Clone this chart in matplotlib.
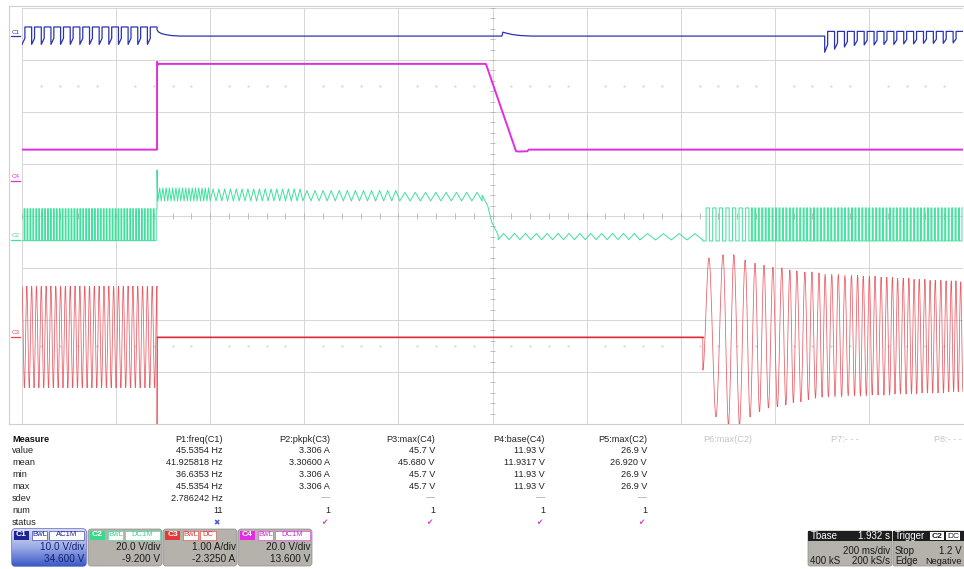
import numpy as np
import matplotlib
matplotlib.use('Agg')
import matplotlib.pyplot as plt
from matplotlib.path import Path
from matplotlib.patches import PathPatch, FancyBboxPatch, Rectangle
from matplotlib.colors import LinearSegmentedColormap

plt.rcParams['font.family'] = ['Liberation Sans', 'DejaVu Sans']

W, H = 964, 569

# scope setup: 200 ms/div, 10 x 8 divisions
t_div = 200.0
n_xdiv, n_ydiv = 10, 8
ch_names = ['C1', 'C2', 'C3', 'C4']
ch_scale = [10.0, 20.0, 1.0, 20.0]
ch_offset = [34.6, -9.2, -2.325, 13.6]
ch_color = ['#2a34b2', '#3fe09c', '#e84852', '#e22ee0']

# ---- C1 (blue, V, AC) ----
c1_stop_t = 287
c1_pre_hi = [1.75] * 14
c1_pre_lo = [-1.6] * 14
c1_decay_t = [287, 290, 296, 305, 318, 336]
c1_decay_v = [1.2, 0.8, 0.5, 0.28, 0.1, 0.0]
c1_bump_t = [1020, 1022, 1030, 1042, 1060, 1085]
c1_bump_v = [0.0, 0.75, 0.55, 0.3, 0.1, 0.0]
c1_restart_t = 1706
c1_restart_hi = [0.9] * 14
c1_restart_lo = [-3.1, -2.5, -2.1, -1.8, -1.7, -1.7, -1.6, -1.6, -1.5, -1.5, -1.4, -1.4, -1.4, -1.3]

# ---- C2 (green, V) ----
c2_pre_hi = [12.0] * 46
c2_pre_lo = [-0.3] * 46
c2_spike = 26.9
c2_ripple_t = [289, 400, 597, 803, 978]
c2_ripple_n = [16, 16, 12, 8]
c2_ripple_top = [20.0, 19.6, 19.0, 18.3]
c2_ripple_bot = [15.0, 15.0, 15.0, 15.0]
c2_fall_t = [978, 990, 998, 1012]
c2_fall_v = [17.2, 13.0, 7.0, 1.9]
c2_low_t = [1012, 1313, 1447]
c2_low_n = [13, 4]
c2_low_top = [2.5, 2.4]
c2_low_bot = [0.1, 0.0]
c2_run_t = [1447, 1545, 2000]
c2_run_n = [7, 62]
c2_run_hi = 12.3
c2_run_lo = -0.4

# ---- C3 (red, A) ----
c3_pre_cycles = 28
c3_pre_amp = 0.98
c3_stop_spike = -1.675
c3_restart_t = 1447
c3_restart_kick = -0.64
c3_peak_t = [1460, 1490, 1513, 1537, 1558, 1577, 1596, 1615, 1632, 1647, 1664, 1679, 1694,
             1707, 1721, 1735, 1749, 1763, 1776, 1788, 1801, 1813, 1826, 1838, 1850, 1861,
             1873, 1885, 1896, 1907, 1919, 1930, 1941, 1953, 1964, 1975, 1985, 1995]
c3_peak_top = [1.52, 1.58, 1.58, 1.48, 1.42, 1.38, 1.34, 1.33, 1.29, 1.27, 1.25, 1.25, 1.23,
               1.21, 1.21, 1.21, 1.19, 1.19, 1.19, 1.17, 1.17, 1.17, 1.15, 1.15, 1.15, 1.13,
               1.13, 1.13, 1.11, 1.11, 1.11, 1.09, 1.09, 1.09, 1.08, 1.08, 1.08, 1.06]
c3_peak_bot = [-1.54, -1.69, -1.69, -1.54, -1.44, -1.37, -1.35, -1.31, -1.27, -1.25, -1.21,
               -1.18, -1.16, -1.16, -1.16, -1.16, -1.14, -1.14, -1.14, -1.14, -1.12, -1.12,
               -1.12, -1.12, -1.10, -1.10, -1.10, -1.10, -1.10, -1.08, -1.08, -1.08, -1.08,
               -1.08, -1.06, -1.06, -1.06, -1.06]

# ---- C4 (magenta, V) ----
c4_t = [0, 287, 287, 289, 292, 986, 1050, 1056, 1074, 1077, 2000]
c4_v = [11.93, 11.93, 45.7, 44.6, 44.9, 44.9, 11.3, 11.2, 11.3, 11.93, 11.93]

# ---- measurement table ----
meas_rows = ['value', 'mean', 'min', 'max', 'sdev', 'num', 'status']
meas_headers = ['P1:freq(C1)', 'P2:pkpk(C3)', 'P3:max(C4)', 'P4:base(C4)', 'P5:max(C2)',
                'P6:max(C2)', 'P7:- - -', 'P8:- - -']
p1_vals = ['45.5354 Hz', '41.925818 Hz', '36.6353 Hz', '45.5354 Hz', '2.786242 Hz', '11']
p2_vals = ['3.306 A', '3.30600 A', '3.306 A', '3.306 A', '\u2014', '1']
p3_vals = ['45.7 V', '45.680 V', '45.7 V', '45.7 V', '\u2014', '1']
p4_vals = ['11.93 V', '11.9317 V', '11.93 V', '11.93 V', '\u2014', '1']
p5_vals = ['26.9 V', '26.920 V', '26.9 V', '26.9 V', '\u2014', '1']
p_status = ['\u2716', '\u2714', '\u2714', '\u2714', '\u2714']

ch_vdiv = ['10.0 V/div', '20.0 V/div', '1.00 A/div', '20.0 V/div']
ch_offs_txt = ['34.600 V', '-9.200 V', '-2.3250 A', '13.600 V']
ch_coupling = ['AC1M', 'DC1M', 'DC', 'DC1M']


def to_div(v, ch):
    return (np.asarray(v, dtype=float) + ch_offset[ch]) / ch_scale[ch]


def square_train(t0, t1, his, los, duty, hook=0.0):
    edges = np.linspace(t0, t1, len(los) + 1)
    t, v = [], []
    for a, b, hi, lo in zip(edges[:-1], edges[1:], his, los):
        m = a + duty * (b - a)
        t += [a, m, m, b]
        v += [lo, lo + hook * (hi - lo), hi, hi]
    return t, v


def zigzag(t0, t1, n, top, bot):
    tt = np.linspace(t0, t1, 2 * n + 1)
    return list(tt), [bot if k % 2 == 0 else top for k in range(2 * n + 1)]


def smooth_path(ts, vs):
    verts = [(ts[0], vs[0])]
    codes = [Path.MOVETO]
    for i in range(1, len(ts)):
        t0, v0, t1, v1 = ts[i - 1], vs[i - 1], ts[i], vs[i]
        dt = t1 - t0
        if dt <= 0:
            verts.append((t1, v1))
            codes.append(Path.LINETO)
        else:
            verts += [(t0 + dt / 3, v0), (t1 - dt / 3, v1), (t1, v1)]
            codes += [Path.CURVE4] * 3
    return Path(verts, codes)


fig = plt.figure(figsize=(W / 100, H / 100), dpi=100)
fig.patch.set_facecolor('white')

# ui layer in pixel coordinates
ui = fig.add_axes([0, 0, 1, 1])
ui.axis('off')
ui.plot([9, 9], [6, 424], color='#cfcfcf', lw=0.8)
ui.plot([9, W], [6, 6], color='#cfcfcf', lw=0.8)
ui.plot([9, W], [424, 424], color='#cfcfcf', lw=0.8)

# waveform area
ax = fig.add_axes([22 / W, 1 - 424 / H, 941 / W, 416 / H])
ax.set_xlim(0, n_xdiv * t_div)
ax.set_ylim(-n_ydiv / 2, n_ydiv / 2)
ax.axis('off')
ax.patch.set_alpha(0)
for k in range(n_xdiv + 1):
    ax.axvline(k * t_div, color='#d6d6d6', lw=0.7, zorder=0)
for k in range(-n_ydiv // 2, n_ydiv // 2 + 1):
    ax.axhline(k, color='#d6d6d6', lw=0.7, zorder=0)
minor_t = np.arange(0, n_xdiv * t_div + 1, t_div / 5)
minor_y = np.arange(-4, 4.01, 0.2)
ax.vlines(minor_t, -0.05, 0.05, color='#b4b4b4', lw=0.6, zorder=0)
ax.hlines(minor_y, 1000 - 6, 1000 + 6, color='#b4b4b4', lw=0.6, zorder=0)
dot_t = [t for t in minor_t if t % t_div != 0]
for yd in (2.5, -2.5):
    ax.plot(dot_t, [yd] * len(dot_t), ls='none', marker='.', ms=1.0, color='#cdcdcd', zorder=0)

# C4 magenta
ax.plot(c4_t, to_div(c4_v, 3), color=ch_color[3], lw=1.4, zorder=3)

# C1 blue
t1, v1 = square_train(0, c1_stop_t, c1_pre_hi, c1_pre_lo, 0.3, 0.35)
t1 += c1_decay_t + c1_bump_t
v1 += c1_decay_v + c1_bump_v
tr, vr = square_train(c1_restart_t, 2000, c1_restart_hi, c1_restart_lo, 0.3, 0.35)
t1 += [c1_restart_t] + tr
v1 += [0.0] + vr
ax.plot(t1, to_div(v1, 0), color=ch_color[0], lw=0.9, zorder=3)

# C2 green
t2, v2 = square_train(0, c1_stop_t, c2_pre_hi, c2_pre_lo, 0.7)
t2 += [287, 287.6]
v2 += [c2_spike, 20.0]
for a, b, n, top, bot in zip(c2_ripple_t[:-1], c2_ripple_t[1:], c2_ripple_n, c2_ripple_top, c2_ripple_bot):
    tt, vv = zigzag(a, b, n, top, bot)
    t2 += tt
    v2 += vv
t2 += c2_fall_t
v2 += c2_fall_v
for a, b, n, top, bot in zip(c2_low_t[:-1], c2_low_t[1:], c2_low_n, c2_low_top, c2_low_bot):
    tt, vv = zigzag(a, b, n, top, bot)
    t2 += tt
    v2 += vv
for a, b, n, d in zip(c2_run_t[:-1], c2_run_t[1:], c2_run_n, [0.5, 0.7]):
    tt, vv = square_train(a, b, [c2_run_hi] * n, [c2_run_lo] * n, d)
    t2 += tt
    v2 += vv
ax.plot(t2, to_div(v2, 1), color=ch_color[1], lw=0.7, zorder=3)

# C3 red
t3 = list(np.linspace(0, c1_stop_t, 2 * c3_pre_cycles + 1))
v3 = [c3_pre_amp if k % 2 == 0 else -c3_pre_amp for k in range(len(t3))]
t3 += [287, 287.5, c3_restart_t, c3_restart_t]
v3 += [c3_stop_spike, 0.0, 0.0, c3_restart_kick]
for i, tp in enumerate(c3_peak_t):
    nxt = c3_peak_t[i + 1] if i + 1 < len(c3_peak_t) else tp + 10
    t3 += [tp, (tp + nxt) / 2]
    v3 += [c3_peak_top[i], c3_peak_bot[i]]
ax.add_patch(PathPatch(smooth_path(t3, list(to_div(v3, 2))), fill=False,
                       ec=ch_color[2], lw=0.55, alpha=0.9, zorder=2))
ax.plot([287.5, c3_restart_t], to_div([0.0, 0.0], 2), color='#dd2a36', lw=1.0, zorder=2)

# channel ground markers
for ch in [0, 3, 1, 2]:
    g = float(to_div(0.0, ch))
    ax.plot([-24, -4], [g, g], color=ch_color[ch], lw=0.9, clip_on=False)
    ax.text(-4, g + 0.03, ch_names[ch], ha='right', va='bottom', fontsize=4.5,
            color=ch_color[ch], clip_on=False)

# measurement table
row_y = [439, 450.5, 462, 474, 486, 498, 510.5, 522.5]
col_x = [223, 330, 435, 545, 647, 752, 859, 962]
fs = 6.6
ui.text(12, row_y[0], 'Measure', fontsize=fs, fontweight='bold', va='center', color='#111111')
for r, name in enumerate(meas_rows):
    ui.text(12, row_y[r + 1], name, fontsize=fs, va='center', color='#222222')
for c, head in enumerate(meas_headers):
    ui.text(col_x[c], row_y[0], head, fontsize=fs, ha='right', va='center',
            color='#222222' if c < 5 else '#c4c4c4')
for c, vals in enumerate([p1_vals, p2_vals, p3_vals, p4_vals, p5_vals]):
    for r, val in enumerate(vals):
        ui.text(col_x[c], row_y[r + 1], val, fontsize=fs, ha='right', va='center',
                color='#9a9a9a' if val == '\u2014' else '#222222')
    ui.text(col_x[c] - 3, row_y[7], p_status[c], fontsize=5.5, ha='right', va='center',
            color='#4a5ad0' if c == 0 else '#d040d0', family='DejaVu Sans')

# channel boxes
box_x = [12, 88, 163, 238]
box_w = 74
tag_col = ['#1c2493', '#3ad88f', '#e23a3a', '#e22ee0']
tag_txt = ['#1c2493', '#3ad88f', '#e23a3a', '#d030d0']
blue_cmap = LinearSegmentedColormap.from_list('c1box', ['#d6dcf5', '#9aaae6', '#3d5cc8'])
for i in range(4):
    x0 = box_x[i]
    face = '#b5b2ab' if i else '#9fb0e8'
    edge = '#2a3aa8' if i == 0 else '#8c8c8c'
    box = FancyBboxPatch((x0, 529), box_w, 37, boxstyle='round,pad=0,rounding_size=3',
                         fc=face, ec=edge, lw=0.8 if i == 0 else 0.5, zorder=1)
    ui.add_patch(box)
    if i == 0:
        grad = np.linspace(0, 1, 40)[:, None] * np.ones((1, 20))
        im = ui.imshow(grad, extent=(x0, x0 + box_w, 566, 529), cmap=blue_cmap,
                       aspect='auto', zorder=1.2)
        im.set_clip_path(box)
    ui.add_patch(Rectangle((x0 + 2, 530.5), 15, 9, fc=tag_col[i], ec='none', zorder=2))
    ui.text(x0 + 9.5, 535, ch_names[i], fontsize=6, color='white', fontweight='bold',
            ha='center', va='center', zorder=3)
    ui.add_patch(Rectangle((x0 + 20, 530.5), 15, 9, fc='white', ec=tag_col[i], lw=0.4, zorder=2))
    ui.text(x0 + 27.5, 535, 'BwL', fontsize=5.5, color=tag_txt[i], ha='center', va='center', zorder=3)
    cw = 35 if len(ch_coupling[i]) > 2 else 16
    ui.add_patch(Rectangle((x0 + 37, 530.5), cw, 9, fc='white', ec=tag_col[i], lw=0.4, zorder=2))
    ui.text(x0 + 37 + cw / 2, 535, ch_coupling[i], fontsize=5.5, color=tag_txt[i],
            ha='center', va='center', zorder=3)
    tc = '#16206e' if i == 0 else '#1a1a1a'
    ui.text(x0 + box_w - 1.5, 547.5, ch_vdiv[i], fontsize=7.2, ha='right', va='center', color=tc, zorder=3)
    ui.text(x0 + box_w - 1.5, 559, ch_offs_txt[i], fontsize=7.2, ha='right', va='center', color=tc, zorder=3)

# timebase / trigger boxes
for x0, w in [(808, 84), (893, 75)]:
    ui.add_patch(FancyBboxPatch((x0, 531), w, 35, boxstyle='round,pad=0,rounding_size=2',
                                fc='#b5b2ab', ec='#8c8c8c', lw=0.5, zorder=1))
    ui.add_patch(Rectangle((x0, 531), w, 10, fc='#1e1e1e', ec='none', zorder=2))
fs2 = 7.0
ui.text(811, 536, 'Tbase', fontsize=fs2, color='white', va='center', zorder=3)
ui.text(890, 536, '1.932 s', fontsize=fs2, color='white', ha='right', va='center', zorder=3)
ui.text(890, 550.5, '200 ms/div', fontsize=fs2, ha='right', va='center', color='#1a1a1a', zorder=3)
ui.text(810, 561, '400 kS', fontsize=fs2, va='center', color='#1a1a1a', zorder=3)
ui.text(890, 561, '200 kS/s', fontsize=fs2, ha='right', va='center', color='#1a1a1a', zorder=3)
ui.text(895, 536, 'Trigger', fontsize=fs2, color='white', va='center', zorder=3)
ui.add_patch(Rectangle((930, 532), 14, 8, fc='white', ec='none', zorder=3))
ui.text(937, 536, 'C2', fontsize=6, color='#1a1a1a', ha='center', va='center', fontweight='bold', zorder=4)
ui.add_patch(Rectangle((946, 532), 14, 8, fc='white', ec='none', zorder=3))
ui.text(953, 536, 'DC', fontsize=6, color='#1a1a1a', ha='center', va='center', zorder=4)
ui.text(895, 550.5, 'Stop', fontsize=fs2, va='center', color='#1a1a1a', zorder=3)
ui.text(962, 550.5, '1.2 V', fontsize=fs2, ha='right', va='center', color='#1a1a1a', zorder=3)
ui.text(895, 561, 'Edge', fontsize=fs2, va='center', color='#1a1a1a', zorder=3)
ui.text(962, 561, 'Negative', fontsize=6.6, ha='right', va='center', color='#1a1a1a', zorder=3)

# pixel frame for the ui layer (set after imshow so limits stick)
ui.set_xlim(0, W)
ui.set_ylim(H, 0)

fig.savefig('out.png', dpi=100)
